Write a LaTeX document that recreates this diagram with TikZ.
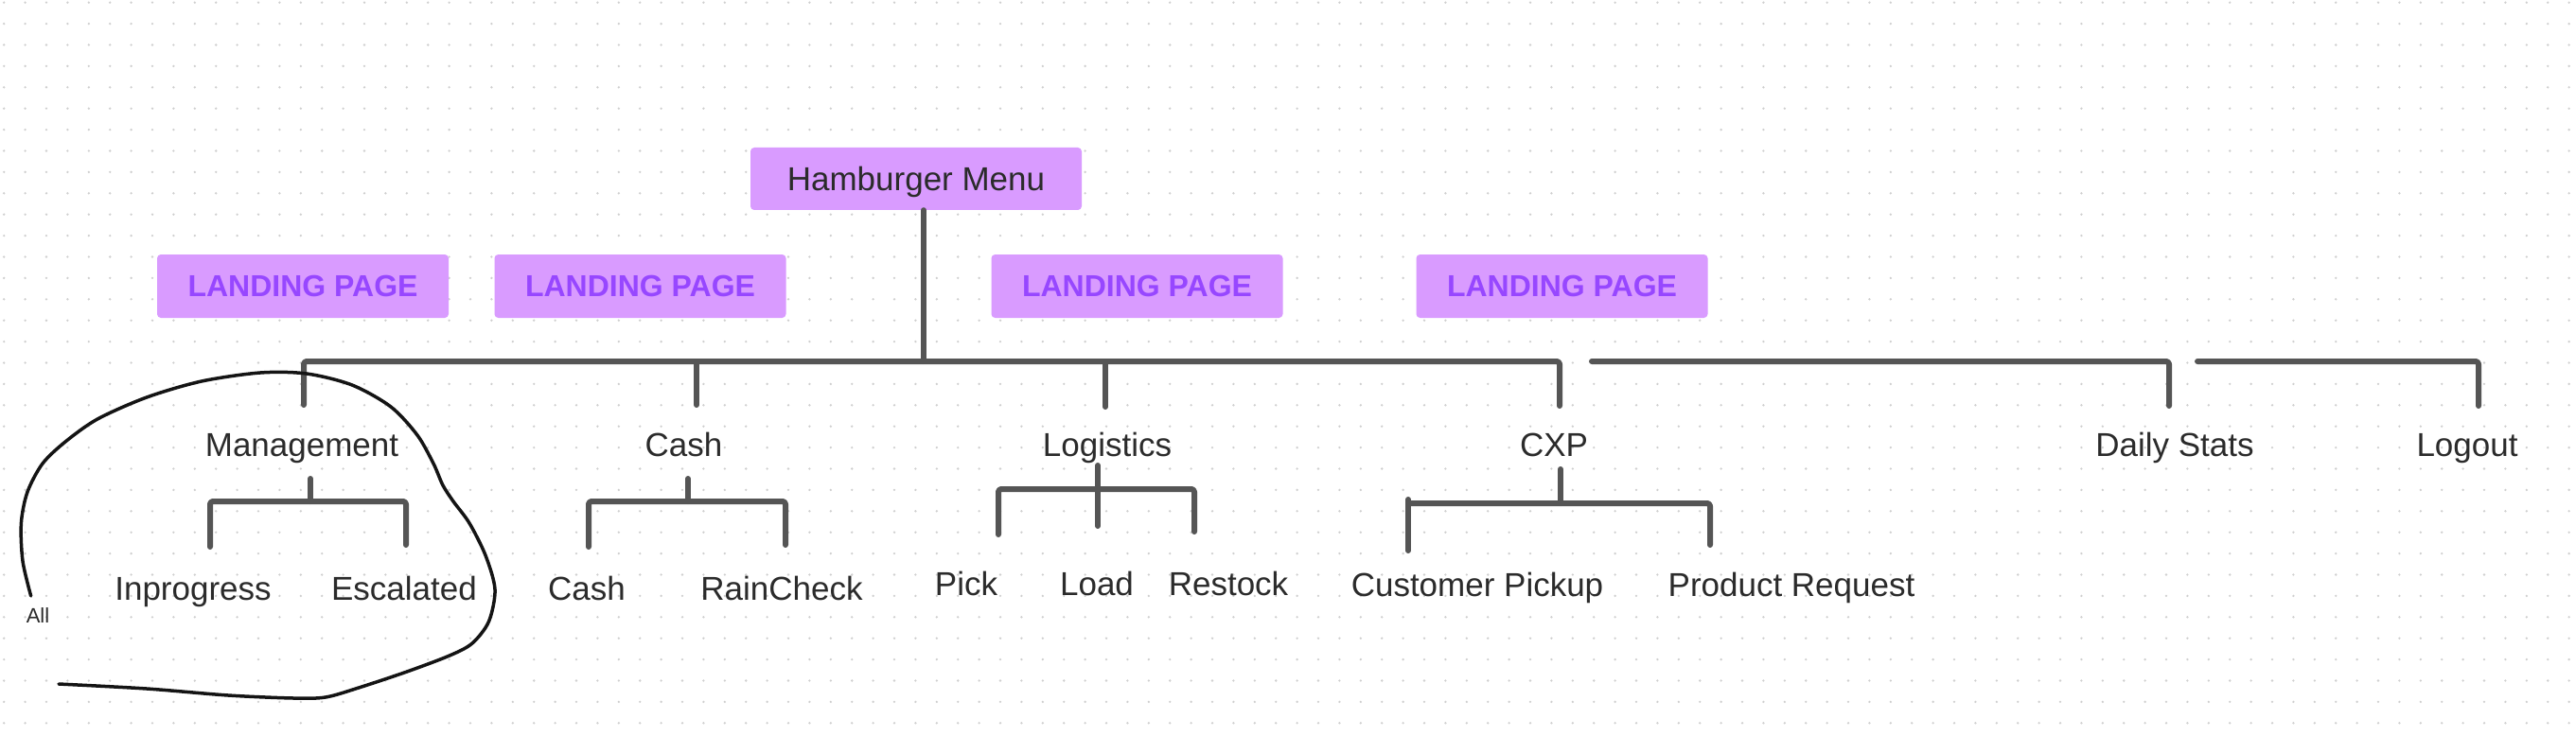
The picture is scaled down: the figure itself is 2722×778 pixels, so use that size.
\documentclass[tikz,border=0pt]{standalone}
\usepackage{fontspec}
\setmainfont{Liberation Sans}
\definecolor{boxfill}{HTML}{D99BFF}
\definecolor{lptext}{HTML}{9747FF}
\definecolor{linec}{HTML}{555555}
\definecolor{txt}{HTML}{2B2B2B}
\definecolor{dotc}{HTML}{CFCFCF}
\begin{document}
\begin{tikzpicture}[x=1pt,y=-1pt,
 lbl/.style={font=\fontsize{35}{40}\selectfont, text=txt, inner sep=0pt, anchor=base},
 small/.style={font=\fontsize{22}{26}\selectfont, text=txt, inner sep=0pt, anchor=base},
 lpbox/.style={fill=boxfill, rounded corners=4pt, minimum width=308pt, minimum height=67pt, inner sep=0pt, text=lptext, font=\fontsize{32}{36}\selectfont\bfseries},
 hambox/.style={fill=boxfill, rounded corners=4pt, minimum width=350pt, minimum height=66pt, inner sep=0pt, text=txt, text depth=0pt, font=\fontsize{35}{40}\selectfont},
 conn/.style={draw=linec, line width=6pt, line cap=round, line join=round, rounded corners=3pt},
 hand/.style={draw=black!92, line width=3.5pt, line cap=round, line join=round},
 dotrow/.style={draw=dotc, line width=2.6pt, line cap=round, dash pattern=on 0pt off 22.4pt}]
\useasboundingbox (0,0) rectangle (2722,778);
\fill[white] (0,0) rectangle (2722,778);
% dot grid
\foreach \j in {0,...,34} {
  \draw[dotrow] (4.2,{2.7+22.4*\j}) -- (2722,{2.7+22.4*\j});
}
% boxes
\node[hambox] (ham) at (968,189) {Hamburger Menu};
\node[lpbox] (lp1) at (320,302.5) {LANDING PAGE};
\node[lpbox] (lp2) at (676.5,302.5) {LANDING PAGE};
\node[lpbox] (lp3) at (1201.5,302.5) {LANDING PAGE};
\node[lpbox] (lp4) at (1650.5,302.5) {LANDING PAGE};
% labels row 1
\node[lbl] (mgmt) at (319,482) {Management};
\node[lbl] (cash) at (722.5,482) {Cash};
\node[lbl] (logi) at (1170,482) {Logistics};
\node[lbl] (cxp) at (1642,482) {CXP};
\node[lbl] (daily) at (2298,482) {Daily Stats};
\node[lbl] (logout) at (2607,482) {Logout};
% labels row 2
\node[lbl] (inprog) at (204,634) {Inprogress};
\node[lbl] (escal) at (427,634) {Escalated};
\node[lbl] (cash2) at (620,634) {Cash};
\node[lbl] (rain) at (826,634) {RainCheck};
\node[lbl] (pick) at (1021,629) {Pick};
\node[lbl] (load) at (1159,629) {Load};
\node[lbl] (restock) at (1298,629) {Restock};
\node[lbl] (cpick) at (1561,630) {Customer Pickup};
\node[lbl] (preq) at (1893,630) {Product Request};
\node[small] (all) at (40,658) {All};
% junction coordinates
\coordinate (jtop) at (976,382);
\coordinate (mgL) at (321,382);
\coordinate (mgE) at (321,428);
\coordinate (caT) at (736,382);
\coordinate (caE) at (736,428);
\coordinate (loT) at (1168,382);
\coordinate (loE) at (1168,430);
\coordinate (cxT) at (1648,382);
\coordinate (cxE) at (1648,429);
\coordinate (b2S) at (1682,382);
\coordinate (b2C) at (2292,382);
\coordinate (b2E) at (2292,429);
\coordinate (b3S) at (2322,382);
\coordinate (b3C) at (2619,382);
\coordinate (b3E) at (2619,429);
% main tree
\draw[conn] (ham.south -| jtop) -- (jtop);
\draw[conn] (mgE) -- (mgL) -- (cxT) -- (cxE);
\draw[conn] (caT) -- (caE);
\draw[conn] (loT) -- (loE);
\draw[conn] (b2S) -- (b2C) -- (b2E);
\draw[conn] (b3S) -- (b3C) -- (b3E);
% management subtree
\coordinate (ms) at (328,506);
\coordinate (mb) at (328,530);
\draw[conn] (ms) -- (mb);
\draw[conn] (222,578) -- (222,530) -- (429,530) -- (429,576);
% cash subtree
\coordinate (cs) at (727,506);
\coordinate (cb) at (727,530);
\draw[conn] (cs) -- (cb);
\draw[conn] (622,578) -- (622,530) -- (830,530) -- (830,576);
% logistics subtree
\coordinate (ls) at (1160,492);
\coordinate (lE) at (1160,556);
\draw[conn] (ls) -- (lE);
\draw[conn] (1055,565) -- (1055,517) -- (1262,517) -- (1262,562);
% cxp subtree
\coordinate (xs) at (1649,496);
\coordinate (xb) at (1649,532);
\draw[conn] (xs) -- (xb);
\draw[conn] (1488,528) -- (1488,582);
\draw[conn] (1488,532) -- (1807,532) -- (1807,576);
% hand-drawn loop
\draw[hand] plot[smooth, tension=0.5] coordinates {(32.7,630) (24,593) (22.4,553) (29,520) (45,490) (69,467) (103,443) (155,420) (213,403) (275,394) (324,395) (372,407) (413,430) (441,460) (458,490) (468,513) (479,530) (496,553) (513,587) (523,623) (516.5,657) (499,680) (475,693) (430,710) (379,727) (344,737) (310,738) (241,735) (155,728) (62,723)};
\end{tikzpicture}
\end{document}
